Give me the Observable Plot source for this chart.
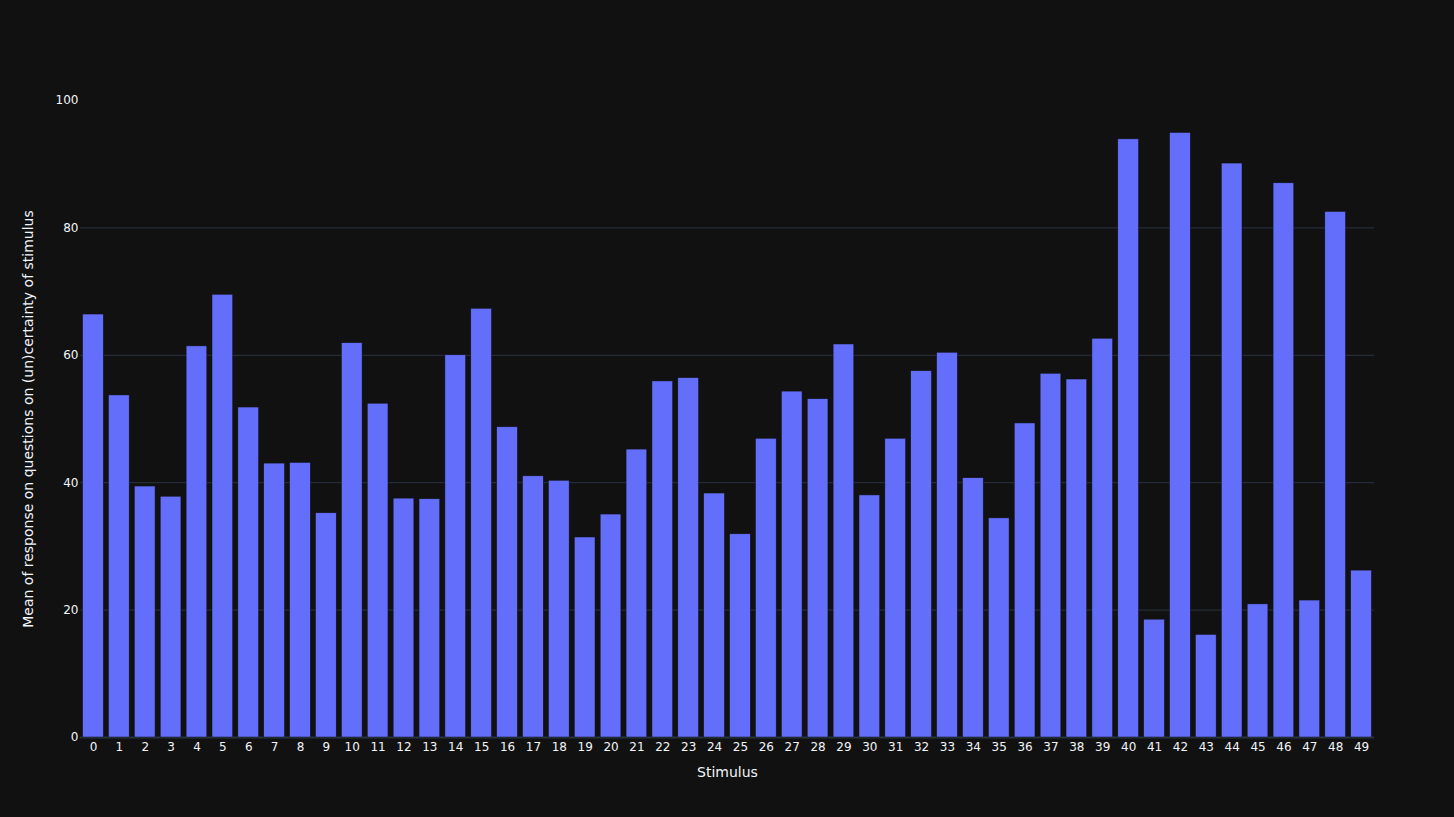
<!DOCTYPE html>
<html>
<head>
<meta charset="utf-8">
<script src="https://cdn.jsdelivr.net/npm/d3@7"></script>
<script src="https://cdn.jsdelivr.net/npm/@observablehq/plot@0.6"></script>
<style>
  html, body { margin: 0; padding: 0; background: #111111; }
  #chart svg { display: block; }
  g[aria-label="y-axis label"] text, g[aria-label="x-axis label"] text { font-size: 14px; }
</style>
</head>
<body>
<div id="chart"></div>
<script>
const stimuli = ["0","1","2","3","4","5","6","7","8","9","10","11","12","13","14","15","16","17","18","19","20","21","22","23","24","25","26","27","28","29","30","31","32","33","34","35","36","37","38","39","40","41","42","43","44","45","46","47","48","49"];
const means = [66.4, 53.7, 39.4, 37.8, 61.4, 69.5, 51.8, 43.0, 43.1, 35.2,
               61.9, 52.4, 37.5, 37.4, 60.0, 67.3, 48.7, 41.0, 40.3, 31.4,
               35.0, 45.2, 55.9, 56.4, 38.3, 31.9, 46.9, 54.3, 53.1, 61.7,
               38.0, 46.9, 57.5, 60.4, 40.7, 34.4, 49.3, 57.1, 56.2, 62.6,
               93.9, 18.5, 94.9, 16.1, 90.1, 20.9, 87.0, 21.5, 82.5, 26.2];
const yTicks = [0, 20, 40, 60, 80, 100];
const gridTicks = [20, 40, 60, 80];

const data = stimuli.map((s, i) => ({stimulus: s, mean: means[i]}));

const chart = Plot.plot({
  width: 1454,
  height: 817,
  marginLeft: 80,
  marginRight: 80,
  marginTop: 100,
  marginBottom: 80,
  style: {background: "#111111", color: "#f2f5fa", fontFamily: "'DejaVu Sans', Verdana, sans-serif", fontSize: "12px"},
  x: {domain: stimuli, paddingInner: 0.2, paddingOuter: 0.1},
  y: {domain: [0, 100]},
  marks: [
    Plot.ruleY(gridTicks, {stroke: "#283442", strokeWidth: 1}),
    Plot.ruleY([0], {stroke: "#283442", strokeWidth: 2}),
    Plot.barY(data, {x: "stimulus", y: "mean", fill: "#636efa", stroke: "#111111", strokeWidth: 0.5}),
    Plot.axisX({tickSize: 0, tickPadding: 5, label: "Stimulus", labelAnchor: "center", labelArrow: "none", labelOffset: 39, fill: "#f2f5fa", fontSize: 12}),
    Plot.axisY({ticks: yTicks, tickSize: 0, tickPadding: 2, label: "Mean of response on questions on (un)certainty of stimulus", labelAnchor: "center", labelArrow: "none", labelOffset: 57, fill: "#f2f5fa", fontSize: 12})
  ]
});
document.getElementById("chart").appendChild(chart);
</script>
</body>
</html>
